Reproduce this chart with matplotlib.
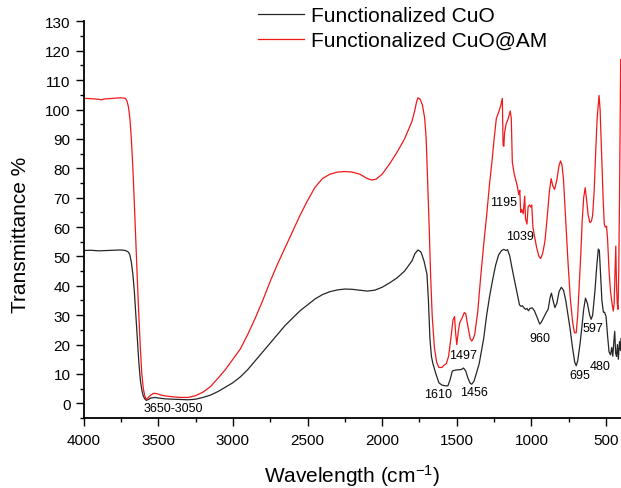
import matplotlib
matplotlib.use("Agg")
import matplotlib.pyplot as plt
from matplotlib.ticker import MultipleLocator

plt.rcParams['font.family'] = ['Liberation Sans', 'DejaVu Sans']
plt.rcParams['mathtext.default'] = 'regular'

# ---------------- data ----------------
wn_cuo = [4000, 3950, 3900, 3850, 3800, 3750, 3720, 3700, 3690, 3680, 3670, 3660, 3650, 3640,
          3630, 3620, 3610, 3600, 3590, 3580, 3570, 3550, 3520, 3500, 3450, 3400, 3350, 3300,
          3250, 3200, 3150, 3100, 3050, 3000, 2950, 2900, 2850, 2800, 2750, 2700, 2650, 2600,
          2550, 2500, 2450, 2400, 2350, 2300, 2250, 2200, 2150, 2100, 2050, 2000, 1950, 1900,
          1850, 1800, 1780, 1760, 1740, 1720, 1700, 1690, 1680, 1670, 1660, 1640, 1620, 1600,
          1580, 1560, 1545, 1530, 1510, 1490, 1470, 1455, 1440, 1425, 1410, 1400, 1385, 1370,
          1350, 1320, 1300, 1280, 1260, 1240, 1220, 1200, 1185, 1170, 1160, 1145, 1130, 1110,
          1090, 1080, 1070, 1060, 1050, 1040, 1030, 1020, 1010, 995, 980, 960, 945, 935, 915,
          900, 888, 875, 866, 855, 843, 830, 815, 800, 785, 770, 755, 740, 725, 710, 700, 690,
          675, 664, 650, 638, 625, 610, 600, 590, 575, 562, 552, 545, 538, 528, 518, 510, 500,
          490, 480, 470, 462, 455, 448, 442, 436, 430, 424, 418, 410, 404, 400]
t_cuo = [52.0, 52.1, 51.9, 52.0, 52.1, 52.2, 52.0, 51.5, 50.5, 48.0, 44.0, 38.0, 30.0, 22.0,
         14.0, 8.0, 4.5, 2.5, 1.5, 1.0, 1.2, 1.8, 2.0, 1.8, 1.5, 1.4, 1.3, 1.2,
         1.4, 2.0, 2.8, 4.0, 5.5, 7.0, 9.0, 11.5, 14.5, 17.5, 20.5, 23.5, 26.5, 29.0,
         31.5, 33.5, 35.5, 37.0, 38.0, 38.6, 38.9, 38.8, 38.5, 38.2, 38.5, 39.5, 41.0, 42.7,
         45.0, 48.5, 51.0, 52.2, 51.5, 48.5, 44.0, 35.0, 22.0, 16.0, 13.5, 10.0, 7.0, 6.2,
         6.0, 5.9, 8.0, 11.0, 11.3, 11.4, 11.5, 12.0, 11.0, 8.5, 6.8, 6.5, 7.5, 10.0,
         13.5, 22.0, 30.0, 36.5, 42.0, 47.0, 50.5, 52.0, 52.4, 52.0, 52.3, 50.1, 46.0, 41.0,
         36.0, 33.5, 33.0, 33.2, 32.5, 32.0, 32.3, 31.5, 32.3, 32.5, 31.5, 29.0, 27.0, 27.5, 29.5,
         31.0, 32.0, 36.0, 37.5, 35.0, 32.6, 34.0, 38.0, 39.5, 38.5, 35.0, 30.0, 25.0, 19.0, 14.0, 12.8, 14.5,
         20.0, 25.0, 32.0, 35.8, 34.0, 30.0, 28.6, 30.0, 38.0, 47.0, 52.5, 52.0, 45.0, 35.0, 31.0, 31.0, 29.5,
         23.0, 17.5, 16.5, 19.0, 16.0, 21.0, 24.5, 17.0, 16.0, 20.0, 15.0, 21.0, 18.0, 22.0]

wn_am = [4000, 3950, 3900, 3880, 3860, 3800, 3750, 3720, 3710, 3700, 3690, 3680, 3670, 3660,
         3650, 3640, 3630, 3620, 3610, 3600, 3590, 3580, 3570, 3550, 3530, 3510, 3480, 3450,
         3400, 3350, 3300, 3250, 3200, 3150, 3100, 3050, 3000, 2950, 2900, 2850, 2800, 2750,
         2700, 2650, 2600, 2550, 2500, 2450, 2400, 2350, 2300, 2250, 2200, 2150, 2100, 2070,
         2040, 2000, 1950, 1900, 1850, 1800, 1780, 1770, 1760, 1745, 1730, 1715, 1705, 1695,
         1685, 1675, 1665, 1650, 1635, 1620, 1600, 1585, 1570, 1555, 1540, 1525, 1515, 1508,
         1500, 1490, 1480, 1465, 1450, 1440, 1425, 1410, 1400, 1390, 1380, 1360, 1340, 1320,
         1300, 1280, 1265, 1250, 1235, 1220, 1205, 1195, 1190, 1185, 1180, 1170, 1155, 1142,
         1135, 1128, 1115, 1105, 1095, 1085, 1078, 1072, 1065, 1055, 1045, 1040, 1030, 1022,
         1012, 1005, 998, 990, 980, 965, 950, 938, 925, 910, 895, 880, 868, 857, 845, 830,
         815, 805, 795, 785, 770, 755, 740, 725, 712, 700, 690, 680, 670, 660, 650, 640, 630,
         620, 608, 598, 590, 580, 570, 560, 552, 547, 540, 530, 520, 512, 505, 497, 490, 480,
         470, 460, 452, 446, 440, 435, 430, 425, 420, 415, 410, 405, 402]
t_am = [103.8, 103.7, 103.5, 103.3, 103.6, 103.8, 104.0, 103.8, 103.0, 101.0, 97.0, 90.0, 80.0, 68.0,
        55.0, 42.0, 30.0, 19.0, 10.0, 5.0, 2.5, 1.3, 1.8, 2.8, 3.4, 3.3, 2.8, 2.5,
        2.2, 2.0, 2.0, 2.6, 3.8, 5.7, 8.5, 11.5, 15.0, 18.5, 23.5, 29.0, 35.0, 41.5,
        47.5, 53.0, 58.5, 64.0, 69.0, 73.5, 76.5, 78.0, 78.7, 78.9, 78.7, 78.0, 76.5, 76.0,
        76.3, 78.0, 81.5, 85.5, 90.0, 96.0, 100.0, 102.5, 104.0, 103.5, 101.5, 97.0, 90.0, 75.0,
        60.0, 43.0, 30.0, 19.0, 14.0, 12.2, 12.2, 13.0, 13.5, 16.0, 22.0, 28.5, 29.5, 24.0,
        20.0, 24.5, 27.5, 29.0, 30.9, 30.5, 26.0, 22.0, 21.2, 22.0, 23.5, 31.0, 43.0, 54.0,
        64.0, 75.0, 82.0, 90.0, 97.0, 99.0, 101.5, 103.8, 88.0, 87.5, 92.0, 95.0, 97.0, 99.5,
        97.0, 82.0, 78.0, 76.0, 74.0, 71.0, 72.5, 65.0, 66.0, 64.5, 70.5, 63.0, 61.0, 67.0,
        67.5, 66.8, 67.5, 60.0, 57.0, 53.0, 50.0, 49.3, 51.0, 55.0, 63.0, 72.0, 76.5, 74.0, 72.8, 76.0,
        81.0, 82.5, 81.0, 76.0, 62.0, 48.0, 36.0, 28.0, 24.0, 24.0, 30.0, 40.0, 50.0, 62.0, 70.0, 73.4, 69.0,
        64.0, 61.5, 62.0, 64.0, 72.0, 85.0, 97.0, 102.0, 104.8, 100.0, 85.0, 70.0, 61.0, 60.0, 60.3, 56.0, 45.0,
        38.0, 34.0, 31.4, 34.0, 45.0, 53.5, 40.0, 34.0, 32.0, 45.0, 70.0, 100.0, 117.0]

series_labels = ["Functionalized CuO", "Functionalized CuO@AM"]

peak_labels = ["3650-3050", "1610", "1456", "1497", "960", "695", "597", "480", "1195", "1039"]
peak_x = [3398, 1625, 1382, 1459, 944, 674, 591, 540, 1187, 1074]
peak_y = [-1.7, 3.1, 3.9, 16.3, 22.4, 9.6, 25.8, 12.7, 68.5, 57.0]

# ---------------- figure ----------------
W, H = 621, 489
fig = plt.figure(figsize=(W / 100, H / 100), dpi=100)
ax_h = 419 - 22.4
ax_w = W - 83.6
ax = fig.add_axes([83.6 / W, 1 - 419 / H, ax_w / W, ax_h / H])

l1, = ax.plot(wn_cuo, t_cuo, color='#262626', lw=0.9)
l2, = ax.plot(wn_am, t_am, color='#f01818', lw=0.9)

ax.set_xlim(4000, 400)
ax.set_ylim(-5, 130)

ax.xaxis.set_major_locator(MultipleLocator(500))
ax.xaxis.set_minor_locator(MultipleLocator(250))
ax.yaxis.set_major_locator(MultipleLocator(10))
ax.yaxis.set_minor_locator(MultipleLocator(5))

for s in ['top', 'right']:
    ax.spines[s].set_visible(False)
for s in ['left', 'bottom']:
    ax.spines[s].set_linewidth(1.3)

ax.tick_params(which='major', direction='out', length=5.5, width=1.0, labelsize=11, pad=4)
ax.tick_params(which='minor', direction='out', length=3.2, width=1.0)
ax.tick_params(axis='x', which='major', pad=5)

ax.set_ylabel('Transmittance %', fontsize=15)
ax.yaxis.set_label_coords((30 - 83.6) / ax_w, (419 - 235) / ax_h)
ax.set_xlabel('Wavelength (cm$^{-1}$)', fontsize=15, labelpad=11)

for lab, x, y in zip(peak_labels, peak_x, peak_y):
    ax.text(x, y, lab, fontsize=9, ha='center', va='center', clip_on=False)

fig.legend([l1, l2], series_labels, loc='upper left',
           bbox_to_anchor=(258 / W, 1 - 7 / H), frameon=False, fontsize=15,
           handlelength=2.2, handletextpad=0.35, borderpad=0, borderaxespad=0,
           labelspacing=0.3)

fig.savefig('out.png', dpi=100)
